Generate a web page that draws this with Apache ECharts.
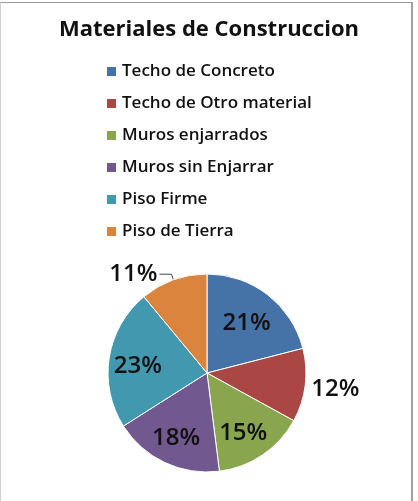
<!DOCTYPE html>
<html>
<head>
<meta charset="utf-8">
<script src="https://cdn.jsdelivr.net/npm/echarts@6/dist/echarts.min.js"></script>
<style>
  html, body { margin: 0; padding: 0; background: #fff; }
  #frame {
    position: absolute; left: 0; top: 2px; width: 413px; height: 499px;
    border-top: 1px solid #9a9a9a; border-left: 1px solid #d0d0d0;
    border-right: 2px solid #a0a0a0; box-sizing: border-box;
  }
  #chart { position: absolute; left: 0; top: 0; width: 418px; height: 501px; }
</style>
</head>
<body>
<div id="frame"></div>
<div id="chart"></div>
<script>
// Data
const categories = [
  "Techo de Concreto",
  "Techo de Otro material",
  "Muros enjarrados",
  "Muros sin Enjarrar",
  "Piso Firme",
  "Piso de Tierra",
];
const shares = [21, 12, 15, 18, 23, 11];
const outsideLabels = ["Techo de Otro material", "Piso de Tierra"];
const palette = ["#4572A7", "#AA4643", "#89A54E", "#71588F", "#4198AF", "#DB843D"];

const chart = echarts.init(document.getElementById("chart"), null, { renderer: "canvas" });

const center = [207, 373];
const outerR = 99;
const font = "Open Sans";

const mainData = categories.map((name, i) => {
  const item = { name: name, value: shares[i], itemStyle: { color: palette[i] } };
  if (name === "Piso de Tierra") {
    item.label = { show: true };
    item.labelLine = { show: true, length: 6, length2: 12 };
  } else if (name === "Techo de Otro material") {
    item.label = { show: true, offset: [0, 3] };
    item.labelLine = { show: false, length: 4, length2: 0 };
  } else {
    item.label = { show: false };
    item.labelLine = { show: false };
  }
  return item;
});

// invisible ring that only carries the inner labels
const innerData = categories.map((name, i) => ({
  name: name,
  value: shares[i],
  label: { show: outsideLabels.indexOf(name) < 0 },
}));

const option = {
  animation: false,
  title: {
    text: "Materiales de Construccion",
    left: "center",
    top: 14,
    textStyle: {
      fontFamily: font,
      fontSize: 22,
      fontWeight: "bold",
      color: "#111",
    },
  },
  legend: {
    orient: "vertical",
    left: 105,
    top: 63,
    padding: 0,
    itemWidth: 11,
    itemHeight: 11,
    itemGap: 15,
    icon: "rect",
    data: categories,
    textStyle: {
      fontFamily: font,
      fontSize: 17,
      fontWeight: 600,
      color: "#111",
    },
  },
  series: [
    {
      name: "Materiales",
      type: "pie",
      center: center,
      radius: [0, outerR],
      startAngle: 90,
      clockwise: true,
      avoidLabelOverlap: false,
      itemStyle: { borderColor: "#ffffff", borderWidth: 1 },
      label: {
        position: "outside",
        formatter: "{c}%",
        fontFamily: font,
        fontSize: 24,
        fontWeight: 600,
        color: "#111",
        distanceToLabelLine: 2,
      },
      labelLine: { lineStyle: { color: "#444", width: 1 } },
      emphasis: { disabled: true },
      data: mainData,
    },
    {
      name: "labels",
      type: "pie",
      center: center,
      radius: [31, outerR],
      startAngle: 90,
      clockwise: true,
      silent: true,
      avoidLabelOverlap: false,
      itemStyle: { color: "rgba(0,0,0,0)", borderWidth: 0 },
      label: {
        position: "inside",
        formatter: "{c}%",
        fontFamily: font,
        fontSize: 24,
        fontWeight: 600,
        color: "#111",
        offset: [-2, 4],
      },
      labelLine: { show: false },
      emphasis: { disabled: true },
      data: innerData,
    },
  ],
};

chart.setOption(option);
</script>
</body>
</html>
